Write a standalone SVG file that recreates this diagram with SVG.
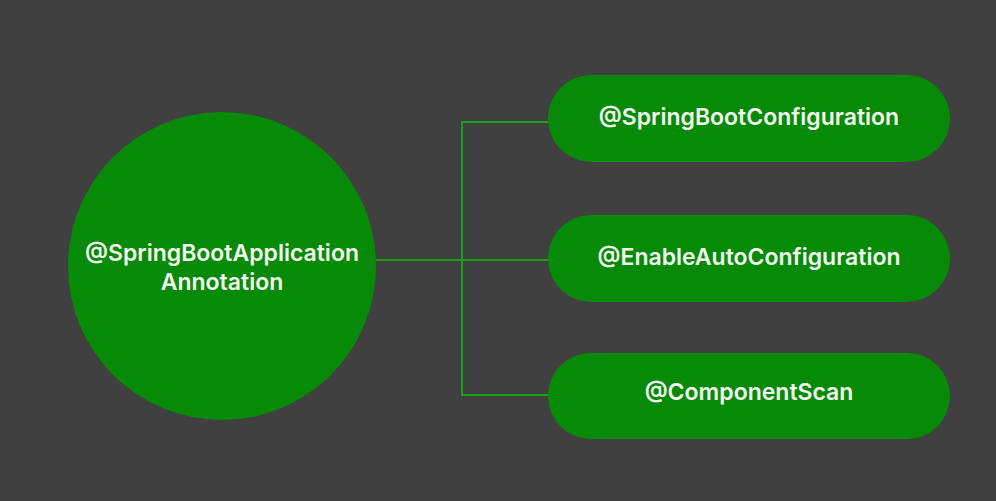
<svg xmlns="http://www.w3.org/2000/svg" width="996" height="501" viewBox="0 0 996 501">
<style>
.node{fill:#078a07}
.lbl{fill:#f2f7f0;font-family:Inter,"Open Sans","DejaVu Sans",sans-serif;font-weight:600;font-size:23px;text-anchor:middle}
.conn{stroke:#16a316;stroke-width:2;fill:none}
</style>
<rect width="996" height="501" fill="#404040"/>
<g id="connectors">
<line class="conn" x1="376" y1="260" x2="548" y2="260"/>
<polyline class="conn" points="548,122 462,122 462,395 548,395"/>
</g>
<g id="node-main">
<circle class="node" cx="222" cy="266" r="154"/>
<text class="lbl" x="222" y="261">@SpringBootApplication</text>
<text class="lbl" x="222" y="290">Annotation</text>
</g>
<g id="node-config">
<rect class="node" x="548" y="75" width="402" height="87" rx="43.5"/>
<text class="lbl" x="749" y="125">@SpringBootConfiguration</text>
</g>
<g id="node-auto">
<rect class="node" x="548" y="215" width="402" height="87" rx="43.5"/>
<text class="lbl" x="749" y="265">@EnableAutoConfiguration</text>
</g>
<g id="node-scan">
<rect class="node" x="548" y="353" width="402" height="86" rx="43"/>
<text class="lbl" x="749" y="400">@ComponentScan</text>
</g>
</svg>
